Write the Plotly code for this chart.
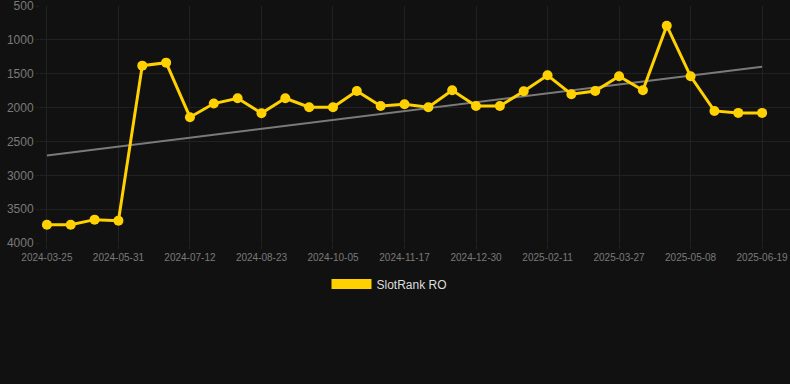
import plotly.graph_objects as go

dates = [
    "2024-03-25", "2024-04-16", "2024-05-08", "2024-05-31", "2024-06-14", "2024-06-28",
    "2024-07-12", "2024-07-26", "2024-08-09", "2024-08-23", "2024-09-06", "2024-09-20",
    "2024-10-05", "2024-10-19", "2024-11-02", "2024-11-17", "2024-12-01", "2024-12-15",
    "2024-12-30", "2025-01-13", "2025-01-27", "2025-02-11", "2025-02-25", "2025-03-12",
    "2025-03-27", "2025-04-10", "2025-04-24", "2025-05-08", "2025-05-22", "2025-06-05",
    "2025-06-19",
]
rank_values = [
    3730, 3730, 3655, 3670, 1380, 1336,
    2142, 1940, 1862, 2083, 1862, 1994,
    1994, 1754, 1975, 1950, 1994, 1744,
    1975, 1975, 1758, 1523, 1803, 1754,
    1537, 1744, 790, 1537, 2049, 2078,
    2078,
]
tick_labels = [
    "2024-03-25", "2024-05-31", "2024-07-12", "2024-08-23", "2024-10-05", "2024-11-17",
    "2024-12-30", "2025-02-11", "2025-03-27", "2025-05-08", "2025-06-19",
]
y_ticks = [500, 1000, 1500, 2000, 2500, 3000, 3500, 4000]
trend_dates = ["2024-03-25", "2025-06-19"]
trend_values = [2707, 1395]
series_name = "SlotRank RO"

GOLD = "#FFD100"
BG = "#111111"
GRID = "#212121"
TICK = "#7a7a7a"

fig = go.Figure()
fig.add_trace(go.Scatter(
    x=trend_dates, y=trend_values, mode="lines",
    line=dict(color="#7a7a7a", width=2),
    showlegend=False, hoverinfo="skip",
))
fig.add_trace(go.Scatter(
    x=dates, y=rank_values, mode="lines+markers", name=series_name,
    line=dict(color=GOLD, width=3),
    marker=dict(color=GOLD, size=10),
    showlegend=False,
))
fig.add_trace(go.Scatter(
    x=[None], y=[None], mode="lines", name=series_name,
    line=dict(color=GOLD, width=12),
    showlegend=True,
))

fig.update_layout(
    width=790, height=384,
    paper_bgcolor=BG, plot_bgcolor=BG,
    margin=dict(l=40, r=0, t=6, b=141),
    font=dict(family="Liberation Sans, Arial, sans-serif", color=TICK),
    showlegend=True,
    legend=dict(
        orientation="h", x=0.466, xanchor="center", y=-0.173, yanchor="middle",
        font=dict(size=12, color="#dddddd"), bgcolor="rgba(0,0,0,0)",
        itemwidth=40,
    ),
    xaxis=dict(
        type="category", categoryorder="array", categoryarray=dates,
        tickvals=tick_labels, ticktext=tick_labels,
        range=[-0.29, 31.17],
        showgrid=True, gridcolor=GRID, gridwidth=1,
        zeroline=False, showline=False,
        tickfont=dict(size=10, color=TICK),
        ticks="outside", ticklen=5, tickcolor=GRID,
    ),
    yaxis=dict(
        range=[4000, 499], tickvals=y_ticks,
        showgrid=True, gridcolor=GRID, gridwidth=1,
        zeroline=False, showline=False,
        tickfont=dict(size=12, color=TICK),
        ticks="outside", ticklen=3, tickcolor=GRID,
        ticklabeloverflow="allow",
    ),
)

fig.write_html(
    "out.html",
    config={"displayModeBar": False},
    post_script="document.body.style.margin='0';document.body.style.background='#111111';",
)
